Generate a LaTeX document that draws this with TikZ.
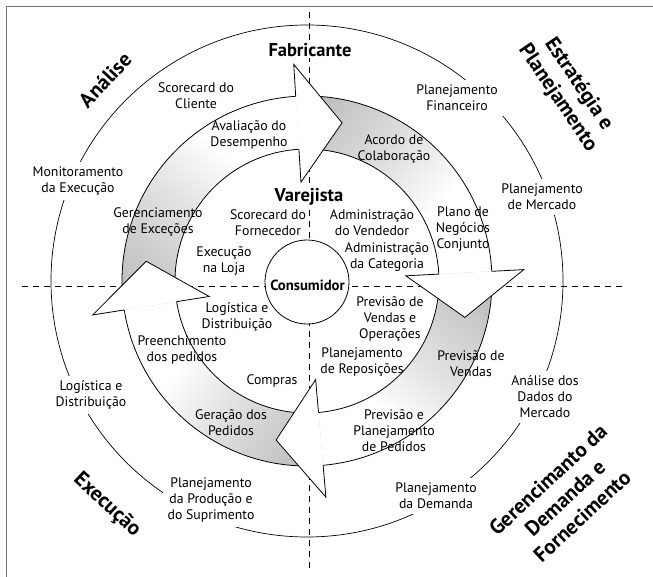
\documentclass[tikz,border=0pt]{standalone}
\usepackage{fontspec}
\setmainfont{PT Sans}
\definecolor{framegray}{gray}{0.45}
\pgfdeclarehorizontalshading{bandfade}{100bp}{rgb(0bp)=(0.72,0.72,0.72); rgb(20bp)=(0.74,0.74,0.74); rgb(45bp)=(0.88,0.88,0.88); rgb(63bp)=(1,1,1); rgb(100bp)=(1,1,1)}
\tikzset{
  lbl/.style={font=\fontsize{13.8}{16}\selectfont, align=center, inner sep=1pt},
  onring/.style={lbl, fill=white, inner sep=5pt},
  bigname/.style={font=\bfseries\fontsize{18.5}{22}\selectfont, inner sep=1pt, fill=white},
  quadlabel/.style={font=\bfseries\fontsize{21}{25}\selectfont, align=center, inner sep=1pt},
  bandline/.style={line width=0.8pt, line join=miter},
  dashline/.style={line width=0.8pt, dash pattern=on 6pt off 5pt},
  ringline/.style={line width=0.7pt},
  frameline/.style={line width=1pt, framegray}
}
\newcommand\bandseg[3]{%
  \shade[shading=bandfade, shading angle=#3] (#1:185pt) arc[start angle=#1, end angle=#2, radius=185pt] -- (#2:132pt) arc[start angle=#2, end angle=#1, radius=132pt] -- cycle;
  \draw[bandline] (#1:185pt) arc[start angle=#1, end angle=#2, radius=185pt];
  \draw[bandline] (#1:132pt) arc[start angle=#1, end angle=#2, radius=132pt];
}
\begin{document}
\begin{tikzpicture}[x=1pt,y=1pt]
\useasboundingbox (-307,-296) rectangle (346,281);
% frame
\coordinate (fbl) at (-300,-296);
\coordinate (ftl) at (-300,274);
\coordinate (ftr) at (346,274);
\draw[frameline] (fbl) -- (ftl) -- (ftr);
% dashed axes
\coordinate (vt) at (2,269);
\coordinate (vb) at (2,-289);
\coordinate (hl) at (-285,-5);
\coordinate (hr) at (318,-5);
\draw[dashline] (vt) -- (vb);
\draw[dashline] (hl) -- (hr);
% outer ring
\draw[ringline] (0,0) circle[radius=256pt];
% band segments
\bandseg{93.5}{3}{-42}
\bandseg{3}{-85}{-131}
\bandseg{-85}{-171}{142}
\bandseg{189}{93.5}{51}
% arrow heads
\foreach \b in {93.5,3,-85,-171}{
  \fill[white] (\b:185pt) -- (\b:217pt) -- ({\b-16}:162pt) -- (\b:99pt) -- (\b:132pt) -- cycle;
  \draw[bandline] (\b:185pt) -- (\b:217pt) -- ({\b-16}:162pt) -- (\b:99pt) -- (\b:132pt);
}
% consumer
\node[circle, draw, line width=0.8pt, fill=white, minimum size=84pt, inner sep=0pt] (cons) at (0,-1) {};
\node[font=\bfseries\fontsize{14.7}{16}\selectfont, inner sep=0pt] (consl) at (0.5,-4) {Consumidor};
% big names
\node[bigname] (fab) at (3,231) {Fabricante};
\node[bigname] (var) at (2,84) {Varejista};
% quadrant labels
\node[quadlabel, rotate=47] (qan) at (-202,201) {Análise};
\node[quadlabel, rotate=-56] (qes) at (261,190) {Estratégia e\\Planejamento};
\node[quadlabel, rotate=-43] (qex) at (-200,-224) {Execução};
\node[quadlabel, rotate=43] (qge) at (258,-217) {Gerencimanto da\\Demanda e\\Fornecimento};
% labels inside
\node[lbl] (l1) at (-111,185) {Scorecard do\\Cliente};
\node[lbl] (l2) at (-58,146) {Avaliação do\\Desempenho};
\node[lbl] (l3) at (-149,59) {Gerenciamento\\de Exceções};
\node[lbl] (l4) at (-39,58) {Scorecard do\\Fornecedor};
\node[lbl] (l5) at (-83,20) {Execução\\na Loja};
\node[lbl] (l6) at (87,132) {Acordo de\\Colaboração};
\node[lbl] (l7) at (65,58) {Administração\\do Vendedor};
\node[lbl] (l8) at (156,52) {Plano de\\Negócios\\Conjunto};
\node[lbl] (l9) at (80,24) {Administração\\da Categoria};
\node[lbl] (l10) at (-70,-36) {Logística e\\Distribuição};
\node[lbl] (l11) at (-125,-69) {Preenchimento\\dos pedidos};
\node[lbl] (l12) at (-35,-100) {Compras};
\node[lbl] (l13) at (-76,-142) {Geração dos\\Pedidos};
\node[lbl] (l14) at (83,-38) {Previsão de\\Vendas e\\Operações};
\node[lbl] (l15) at (55,-81) {Planejamento\\de Reposições};
\node[lbl] (l16) at (164,-83) {Previsão de\\Vendas};
\node[lbl] (l17) at (87,-150) {Previsão e\\Planejamento\\de Pedidos};
% labels on outer ring
\node[onring] (r1) at (-229,100) {Monitoramento\\da Execução};
\node[onring] (r2) at (150,183) {Planejamento\\Financeiro};
\node[onring] (r3) at (235,84) {Planejamento\\de Mercado};
\node[onring] (r4) at (238,-116) {Análise dos\\Dados do\\Mercado};
\node[onring] (r5) at (129,-215) {Planejamento\\da Demanda};
\node[onring] (r6) at (-96,-219) {Planejamento\\da Produção e\\do Suprimento};
\node[onring] (r7) at (-216,-114) {Logística e\\Distribuição};
\end{tikzpicture}
\end{document}
